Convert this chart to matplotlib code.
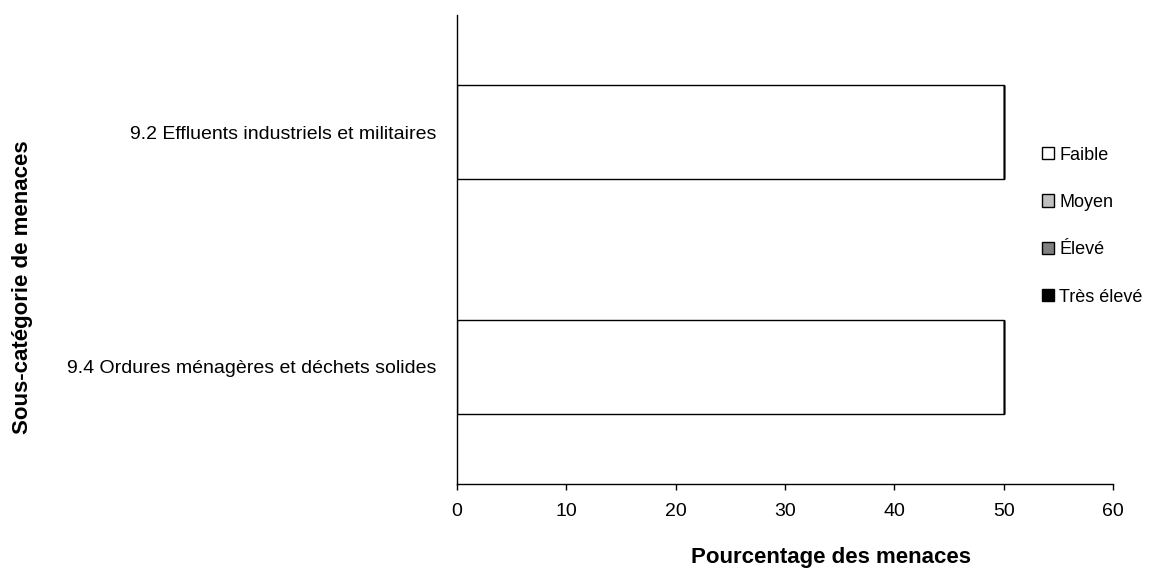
import matplotlib
matplotlib.use("Agg")
import matplotlib.pyplot as plt
import numpy as np
from matplotlib.patches import Patch

plt.rcParams["font.family"] = ["Liberation Sans", "DejaVu Sans"]

categories = [
    "9.4 Ordures ménagères et déchets solides",
    "9.2 Effluents industriels et militaires",
]
levels = ["Faible", "Moyen", "Élevé", "Très élevé"]
faible = [50, 50]
moyen = [0, 0]
eleve = [0, 0]
tres_eleve = [0, 0]
level_colors = ["#ffffff", "#c0c0c0", "#808080", "#000000"]
xticks = [0, 10, 20, 30, 40, 50, 60]

W, H = 1155, 570
fig = plt.figure(figsize=(W / 100, H / 100), dpi=100)
ax = fig.add_axes([457 / W, 1 - 484 / H, (1113 - 457) / W, (484 - 15) / H])

# stacked horizontal bars, one segment per threat level
y = np.arange(len(categories))
left = np.zeros(len(categories))
for vals, color in zip([faible, moyen, eleve, tres_eleve], level_colors):
    ax.barh(y, vals, left=left, height=0.4, color=color,
            edgecolor="black", linewidth=1.0)
    left += np.array(vals)

ax.set_xlim(0, 60)
ax.set_ylim(-0.5, len(categories) - 0.5)
ax.set_xticks(xticks)
ax.set_yticks(y)
ax.set_yticklabels(categories)
ax.tick_params(axis="x", direction="out", length=4.5, width=1.0,
               labelsize=14, pad=9)
ax.tick_params(axis="y", length=0, labelsize=14, pad=15)

for side in ("top", "right"):
    ax.spines[side].set_visible(False)
for side in ("left", "bottom"):
    ax.spines[side].set_linewidth(1.0)
    ax.spines[side].set_color("black")

fig.text(831 / W, 1 - 558 / H, "Pourcentage des menaces",
         ha="center", va="center", fontsize=16, fontweight="bold")
fig.text(23 / W, 1 - 287 / H, "Sous-catégorie de menaces",
         ha="center", va="center", rotation=90, fontsize=16, fontweight="bold")

handles = [Patch(facecolor=c, edgecolor="black", linewidth=1.0) for c in level_colors]
fig.legend(handles, levels, loc="center left",
           bbox_to_anchor=(1042 / W, 1 - 226 / H), bbox_transform=fig.transFigure,
           frameon=False, fontsize=13, handlelength=0.65, handleheight=0.65,
           handletextpad=0.3, labelspacing=1.68, borderpad=0, borderaxespad=0)

fig.savefig("out.png", dpi=100)
